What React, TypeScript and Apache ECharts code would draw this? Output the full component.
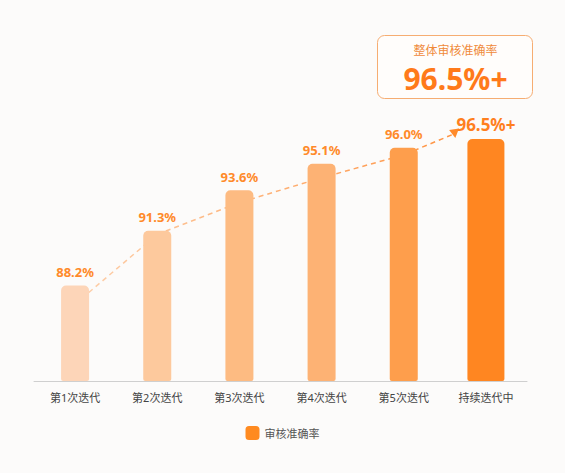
import React, { useEffect, useRef } from "react";
import * as echarts from "echarts";

const categories = ["第1次迭代", "第2次迭代", "第3次迭代", "第4次迭代", "第5次迭代", "持续迭代中"];
const accuracy = [88.2, 91.3, 93.6, 95.1, 96.0, 96.5];
// dashed trend arrow: [category position, value]
const trendX = [0, 1, 2, 3, 4, 4.62];
const trendY = [87.15, 91.1, 92.9, 94.3, 95.6, 96.8];
const seriesName = "审核准确率";
const calloutTitle = "整体审核准确率";

const barColors = ["#FDD5B8", "#FDC99D", "#FDBB82", "#FDB274", "#FE9E4C", "#FF8621"];

export default function App() {
  const ref = useRef<HTMLDivElement>(null);
  useEffect(() => {
    if (!ref.current) return;
    const chart = echarts.init(ref.current, undefined, { renderer: "svg" });
    const last = accuracy.length - 1;
    const font = "'Noto Sans', 'Noto Sans CJK SC', sans-serif";
    const regular = accuracy.map((v, i) =>
      i === last ? "-" : { value: v, itemStyle: { color: barColors[i] } }
    );
    const final = accuracy.map((v, i) =>
      i === last ? { value: v, itemStyle: { color: barColors[i] } } : "-"
    );
    const trend = trendX.map((x, i) =>
      i === trendX.length - 1
        ? { value: [x, trendY[i]], symbol: "triangle", symbolSize: [10, 9], symbolRotate: 188, itemStyle: { color: "#FF8A2A" } }
        : { value: [x, trendY[i]], symbol: "none" }
    );
    const fmt = (suffix: string) => (p: any) => `${Number(p.value).toFixed(1)}${suffix}`;
    chart.setOption({
      animation: false,
      backgroundColor: "#FCFBFA",
      textStyle: { fontFamily: font },
      grid: { left: 34, right: 38, top: 40, bottom: 92 },
      legend: {
        data: [seriesName],
        bottom: 28,
        left: "center",
        icon: "roundRect",
        itemWidth: 14,
        itemHeight: 14,
        itemStyle: { color: "#FF8A20" },
        textStyle: { color: "#555", fontSize: 11, fontFamily: font },
      },
      xAxis: [
        {
          type: "category",
          data: categories,
          axisLine: { lineStyle: { color: "#CFCFCF" } },
          axisTick: { show: false },
          axisLabel: { color: "#444", fontSize: 11, margin: 11, fontFamily: font },
        },
        { type: "value", min: -0.5, max: 5.5, show: false },
        { type: "category", data: categories, show: false },
      ],
      yAxis: { type: "value", min: 82.8, max: 102.1, show: false, splitLine: { show: false } },
      series: [
        {
          type: "line",
          xAxisIndex: 1,
          z: 1,
          data: trend,
          lineStyle: {
            type: [5, 4],
            width: 1.5,
            color: new echarts.graphic.LinearGradient(0, 0, 1, 0, [
              { offset: 0, color: "#FDD0AC" },
              { offset: 1, color: "#FF9342" },
            ]),
          },
          silent: true,
        },
        {
          name: seriesName,
          type: "bar",
          z: 3,
          barWidth: 28,
          data: regular,
          itemStyle: { borderRadius: [5, 5, 2, 2] },
          label: {
            show: true,
            position: "top",
            distance: 7,
            formatter: fmt("%"),
            color: "#FF8A2A",
            fontSize: 13,
            fontWeight: "bold",
            fontFamily: font,
          },
        },
        {
          name: seriesName,
          type: "bar",
          xAxisIndex: 2,
          z: 3,
          barWidth: 37,
          data: final,
          itemStyle: { borderRadius: [5, 5, 2, 2] },
          label: {
            show: true,
            position: "top",
            distance: 6,
            formatter: fmt("%+"),
            color: "#FF7F1E",
            fontSize: 17,
            fontWeight: "bold",
            fontFamily: font,
          },
        },
      ],
      graphic: [
        {
          type: "group",
          left: 377,
          top: 35,
          children: [
            {
              type: "rect",
              shape: { x: 0, y: 0, width: 155, height: 63, r: 7 },
              style: { fill: "#FFFDFB", stroke: "#F6AD72", lineWidth: 1 },
            },
            {
              type: "text",
              x: 78,
              y: 15,
              style: {
                text: calloutTitle,
                fill: "#F08A3A",
                fontSize: 12,
                lineHeight: 12,
                fontFamily: font,
                align: "center",
                verticalAlign: "middle",
              },
            },
            {
              type: "text",
              x: 78,
              y: 43,
              style: {
                text: `${accuracy[last].toFixed(1)}%+`,
                fill: "#FF7A1A",
                fontSize: 30,
                lineHeight: 28,
                fontWeight: "bold",
                fontFamily: font,
                align: "center",
                verticalAlign: "middle",
              },
            },
          ],
        },
      ],
    });
    return () => chart.dispose();
  }, []);
  return <div ref={ref} style={{ position: "fixed", left: 0, top: 0, width: 565, height: 473 }} />;
}
